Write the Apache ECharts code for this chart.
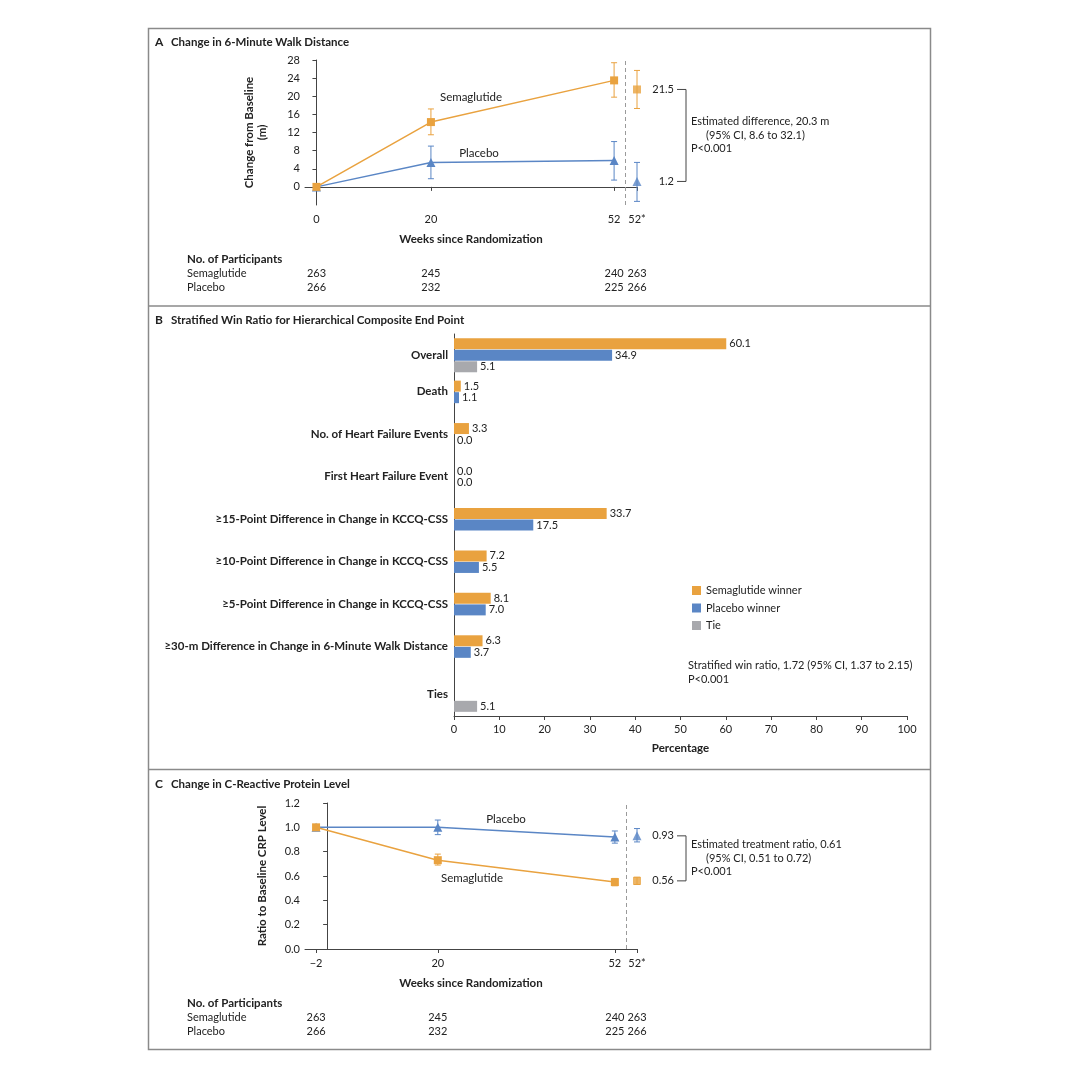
<!DOCTYPE html>
<html><head><meta charset="utf-8">
<script src="https://cdn.jsdelivr.net/npm/echarts@6/dist/echarts.min.js"></script>
<style>html,body{margin:0;padding:0;background:#fff}#c{width:1080px;height:1080px}</style>
</head><body><div id="c"></div>
<script>
// ---------- Panel A: 6-minute walk distance ----------
const weeksA = [0, 20, 52, 56];            // 56 = position of "52*"
const weekLabelsA = ['0', '20', '52', '52*'];
const semaA   = [0, 14.3, 23.5, 21.5];
const semaALo = [null, 11.5, 19.8, 17.3];
const semaAHi = [null, 17.2, 27.4, 25.7];
const placA   = [0, 5.4, 5.8, 1.2];
const placALo = [null, 1.8, 1.5, -3.2];
const placAHi = [null, 9.0, 10.0, 5.4];
const yTicksA = [0, 4, 8, 12, 16, 20, 24, 28];
const nSemaA = [263, 245, 240, 263];
const nPlacA = [266, 232, 225, 266];

// ---------- Panel B: win ratio ----------
const categoriesB = ['Overall', 'Death', 'No. of Heart Failure Events', 'First Heart Failure Event',
  '≥15-Point Difference in Change in KCCQ-CSS', '≥10-Point Difference in Change in KCCQ-CSS',
  '≥5-Point Difference in Change in KCCQ-CSS', '≥30-m Difference in Change in 6-Minute Walk Distance', 'Ties'];
const semaWin = [60.1, 1.5, 3.3, 0.0, 33.7, 7.2, 8.1, 6.3, null];
const placWin = [34.9, 1.1, 0.0, 0.0, 17.5, 5.5, 7.0, 3.7, null];
const tieVals = [5.1, null, null, null, null, null, null, null, 5.1];

// ---------- Panel C: CRP ----------
const weeksC = [-2, 20, 52, 56];
const weekLabelsC = ['\u22122', '20', '52', '52*'];
const semaC   = [1.0, 0.73, 0.55, 0.56];
const semaCLo = [null, 0.69, 0.52, 0.53];
const semaCHi = [null, 0.78, 0.58, 0.59];
const placC   = [1.0, 1.0, 0.92, 0.93];
const placCLo = [null, 0.94, 0.87, 0.88];
const placCHi = [null, 1.06, 0.97, 0.99];
const nSemaC = [263, 245, 240, 263];
const nPlacC = [266, 232, 225, 266];

const separatorWeek = 54;

const ORANGE = '#E9A23F', BLUE = '#5A86C5', GREY = '#A8A9AD';
const FONT = 'Lato';
const INK = '#222';
const AX = '#444';

const chart = echarts.init(document.getElementById('c'), null, {renderer: 'canvas'});

function errRender(color) {
  return function (params, api) {
    const x = api.value(0), lo = api.value(1), hi = api.value(2);
    const a = api.coord([x, lo]), b = api.coord([x, hi]);
    const w = 3;
    const st = {stroke: color, lineWidth: 1};
    return {type: 'group', children: [
      {type: 'line', shape: {x1: a[0], y1: a[1], x2: b[0], y2: b[1]}, style: st},
      {type: 'line', shape: {x1: a[0] - w, y1: a[1], x2: a[0] + w, y2: a[1]}, style: st},
      {type: 'line', shape: {x1: b[0] - w, y1: b[1], x2: b[0] + w, y2: b[1]}, style: st}
    ]};
  };
}

function panelSeries(ax, weeks, vals, lo, hi, color, symbol, size, name, z, withSep) {
  const line = weeks.slice(0, 3).map((w, i) => [w, vals[i]]);
  const errs = [];
  weeks.forEach((w, i) => { if (lo[i] != null) errs.push([w, lo[i], hi[i]]); });
  const out = [
    {type: 'custom', name: name + ' CI', xAxisIndex: ax, yAxisIndex: ax, renderItem: errRender(color),
     data: errs, encode: {x: 0, y: [1, 2]}, z: z, silent: true},
    {type: 'line', name: name, xAxisIndex: ax, yAxisIndex: ax, data: line, symbol: symbol, symbolSize: size,
     itemStyle: {color: color}, lineStyle: {color: color, width: 1.5}, z: z + 1, silent: true},
    {type: 'scatter', name: name + ' final', xAxisIndex: ax, yAxisIndex: ax,
     data: [[weeks[3], vals[3]]], symbol: symbol, symbolSize: size, itemStyle: {color: color}, z: z + 1, silent: true}
  ];
  if (withSep) {
    out[1].markLine = {silent: true, symbol: 'none', label: {show: false},
      lineStyle: {color: '#9a9a9a', type: [4, 3], width: 1}, data: [{xAxis: separatorWeek}]};
  }
  return out;
}

const axisLineStyle = {show: true, lineStyle: {color: AX, width: 1}};
const tickStyle = {show: true, length: 4, lineStyle: {color: AX}};
const lblStyle = {color: INK, fontSize: 11, fontFamily: FONT};

function weekAxis(gridIndex, min, max, weeks, labels) {
  return {type: 'value', gridIndex, min, max, axisLine: axisLineStyle,
    axisTick: Object.assign({}, tickStyle, {customValues: weeks}),
    axisLabel: Object.assign({}, lblStyle, {customValues: weeks, margin: 9,
      formatter: v => labels[weeks.indexOf(v)]}),
    splitLine: {show: false},
    name: 'Weeks since Randomization', nameLocation: 'middle', nameGap: 28,
    nameTextStyle: {fontFamily: FONT, fontWeight: 'bold', fontSize: 11.5, color: INK}};
}

const option = {
  animation: false,
  backgroundColor: '#fff',
  textStyle: {fontFamily: FONT},
  grid: [
    {left: 305, right: 443, top: 60, height: 145},
    {left: 454, right: 173, top: 334, height: 382},
    {left: 305, right: 443, top: 803, height: 146}
  ],
  legend: {data: ['Semaglutide winner', 'Placebo winner', 'Tie'], orient: 'vertical', left: 687, top: 580,
    itemWidth: 9, itemHeight: 9, itemGap: 6.5, icon: 'rect', selectedMode: false,
    textStyle: {fontSize: 11, color: INK, fontFamily: FONT}},
  xAxis: [
    weekAxis(0, -2, 56, weeksA, weekLabelsA),
    {type: 'value', gridIndex: 1, min: 0, max: 100, interval: 10, axisLine: axisLineStyle, axisTick: tickStyle,
     axisLabel: Object.assign({}, lblStyle, {margin: 8}), splitLine: {show: false},
     name: 'Percentage', nameLocation: 'middle', nameGap: 26,
     nameTextStyle: {fontFamily: FONT, fontWeight: 'bold', fontSize: 11.5, color: INK}},
    weekAxis(2, -4, 56, weeksC, weekLabelsC)
  ],
  yAxis: [
    {type: 'value', gridIndex: 0, min: -4, max: 28, axisLine: axisLineStyle,
     axisTick: Object.assign({}, tickStyle, {customValues: yTicksA}),
     axisLabel: Object.assign({}, lblStyle, {customValues: yTicksA, margin: 5}), splitLine: {show: false},
     name: 'Change from Baseline\n(m)', nameLocation: 'middle', nameRotate: 90, nameGap: 36,
     nameTextStyle: {fontFamily: FONT, fontWeight: 'bold', fontSize: 11.5, color: INK, lineHeight: 13}},
    {type: 'category', gridIndex: 1, inverse: true, data: categoriesB, axisLine: axisLineStyle,
     axisTick: {show: false},
     axisLabel: {margin: 6, color: INK, fontFamily: FONT, fontSize: 11.5, fontWeight: 'bold',
       formatter: (v, i) => (tieVals[i] == null ? '{s|' + v + '}' : '{n|' + v + '}'),
       rich: {s: {fontFamily: FONT, fontSize: 11.5, fontWeight: 'bold', color: INK, padding: [0, 0, 12, 0]},
              n: {fontFamily: FONT, fontSize: 11.5, fontWeight: 'bold', color: INK}}}},
    {type: 'value', gridIndex: 2, min: 0, max: 1.2, interval: 0.2, axisLine: axisLineStyle, axisTick: tickStyle,
     axisLabel: Object.assign({}, lblStyle, {margin: 5, formatter: v => v.toFixed(1)}), splitLine: {show: false},
     name: 'Ratio to Baseline CRP Level', nameLocation: 'middle', nameRotate: 90, nameGap: 37,
     nameTextStyle: {fontFamily: FONT, fontWeight: 'bold', fontSize: 11.5, color: INK}}
  ],
  series: [].concat(
    panelSeries(0, weeksA, placA, placALo, placAHi, BLUE, 'triangle', 9, 'Placebo A', 2, true),
    panelSeries(0, weeksA, semaA, semaALo, semaAHi, ORANGE, 'rect', 8, 'Semaglutide A', 5, false),
    panelSeries(2, weeksC, placC, placCLo, placCHi, BLUE, 'triangle', 9, 'Placebo C', 2, true),
    panelSeries(2, weeksC, semaC, semaCLo, semaCHi, ORANGE, 'rect', 8, 'Semaglutide C', 5, false),
    [['Semaglutide winner', semaWin, ORANGE], ['Placebo winner', placWin, BLUE], ['Tie', tieVals, GREY]].map(s => ({
      type: 'bar', name: s[0], xAxisIndex: 1, yAxisIndex: 1, barWidth: 11, barGap: '5%',
      data: s[1].map(v => (v == null ? '-' : v)), itemStyle: {color: s[2]}, silent: true,
      label: {show: true, position: 'right', distance: 3, color: INK, fontSize: 11, fontFamily: FONT,
        formatter: p => Number(p.value).toFixed(1)}
    }))
  )
};
chart.setOption(option);

// ---------- annotations positioned through the chart's own scales ----------
function px(ax, x, y) { return chart.convertToPixel({xAxisIndex: ax, yAxisIndex: ax}, [x, y]); }
const g = [];
function txt(x, y, s, opt) {
  g.push({type: 'text', x: x, y: y, silent: true, style: Object.assign({text: s, fill: INK, fontFamily: FONT,
    fontSize: 11, verticalAlign: 'middle', align: 'left'}, opt || {})});
}
function ln(x1, y1, x2, y2, color, w) {
  g.push({type: 'line', silent: true, shape: {x1, y1, x2, y2}, style: {stroke: color || AX, lineWidth: w || 1}});
}
// frame
g.push({type: 'rect', silent: true, shape: {x: 148.5, y: 28.5, width: 782, height: 1021},
  style: {fill: 'none', stroke: '#8a8a8a', lineWidth: 1.5}});
ln(148.5, 306, 930.5, 306, '#8a8a8a', 1.5);
ln(148.5, 769.5, 930.5, 769.5, '#8a8a8a', 1.5);
// panel titles
const titles = [[42, 'A', 'Change in 6-Minute Walk Distance'], [320, 'B', 'Stratified Win Ratio for Hierarchical Composite End Point'],
  [784, 'C', 'Change in C-Reactive Protein Level']];
titles.forEach(t => { txt(155, t[0], t[1], {fontWeight: 'bold', fontSize: 12}); txt(171, t[0], t[2], {fontWeight: 'bold', fontSize: 11.5}); });

function bracket(ax, topVal, botVal, digits, lines) {
  const yT = px(ax, 56, topVal)[1], yB = px(ax, 56, botVal)[1];
  const xv = 686;
  txt(674, yT, topVal.toFixed(digits), {align: 'right'});
  txt(674, yB, botVal.toFixed(digits), {align: 'right'});
  ln(677, yT, xv, yT); ln(677, yB, xv, yB); ln(xv, yT, xv, yB);
  const mid = (yT + yB) / 2;
  txt(691, mid - 13.5, lines[0]);
  txt(706, mid, lines[1]);
  txt(691, mid + 13, lines[2]);
}
bracket(0, semaA[3], placA[3], 1, ['Estimated difference, 20.3 m', '(95% CI, 8.6 to 32.1)', 'P<0.001']);
bracket(2, placC[3], semaC[3], 2, ['Estimated treatment ratio, 0.61', '(95% CI, 0.51 to 0.72)', 'P<0.001']);

// series labels
txt(471, 97, 'Semaglutide', {align: 'center', fontSize: 11.5});
txt(479, 153, 'Placebo', {align: 'center', fontSize: 11.5});
txt(506, 819, 'Placebo', {align: 'center', fontSize: 11.5});
txt(472, 878, 'Semaglutide', {align: 'center', fontSize: 11.5});

// participants tables
function table(ax, weeks, ns, np, y0) {
  txt(187, y0, 'No. of Participants', {fontWeight: 'bold', fontSize: 11.5});
  txt(187, y0 + 14, 'Semaglutide');
  txt(187, y0 + 28, 'Placebo');
  weeks.forEach((w, i) => {
    const x = px(ax, w, 0)[0];
    txt(x, y0 + 14, String(ns[i]), {align: 'center'});
    txt(x, y0 + 28, String(np[i]), {align: 'center'});
  });
}
table(0, weeksA, nSemaA, nPlacA, 259);
table(2, weeksC, nSemaC, nPlacC, 1003);

// win ratio note
txt(688, 665, 'Stratified win ratio, 1.72 (95% CI, 1.37 to 2.15)');
txt(688, 679, 'P<0.001');

chart.setOption({graphic: g});
</script></body></html>
